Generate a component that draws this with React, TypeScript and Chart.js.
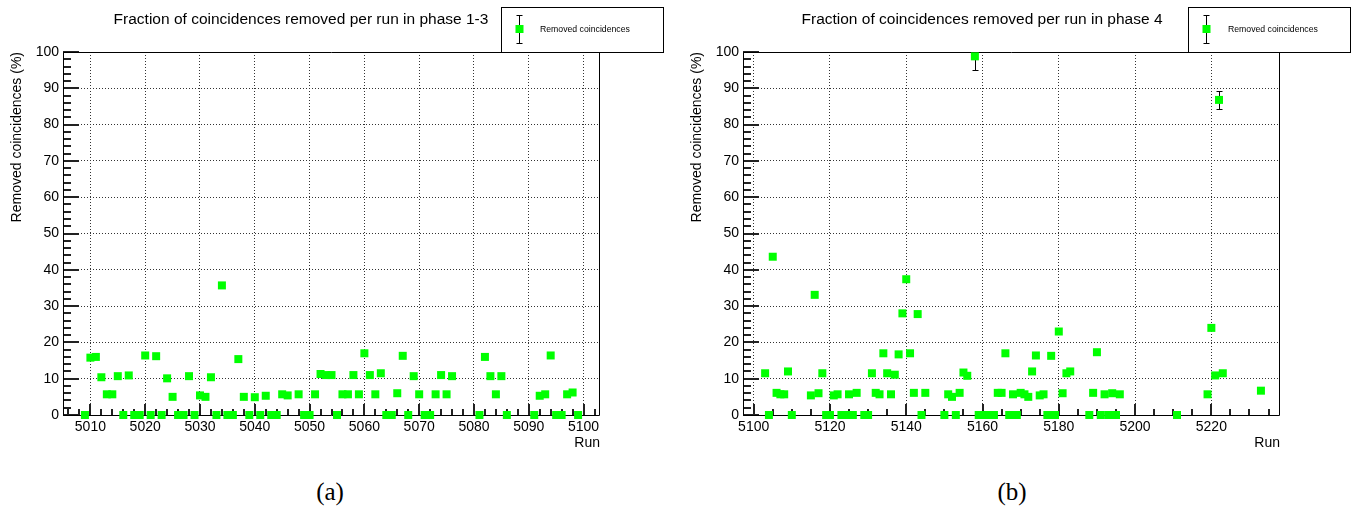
import React, { useEffect, useRef } from 'react';
import { Chart, registerables } from 'chart.js';

Chart.register(...registerables);

const FONT = "'Liberation Sans', Arial, Helvetica, sans-serif";

// ---------- data: phase 1-3 ----------
const leftRuns = [
  5009, 5010, 5011, 5012, 5013, 5014, 5015, 5016, 5017, 5018, 5019, 5020, 5021, 5022, 5023, 5024, 5025,
  5026, 5027, 5028, 5029, 5030, 5031, 5032, 5033, 5034, 5035, 5036, 5037, 5038, 5039, 5040, 5041, 5042,
  5043, 5044, 5045, 5046, 5048, 5049, 5050, 5051, 5052, 5053, 5054, 5055, 5056, 5057, 5058, 5059, 5060,
  5061, 5062, 5063, 5064, 5065, 5066, 5067, 5068, 5069, 5070, 5071, 5072, 5073, 5074, 5075, 5076, 5081,
  5082, 5083, 5084, 5085, 5086, 5091, 5092, 5093, 5094, 5095, 5096, 5097, 5098, 5099,
];
const leftValues = [
  0, 15.8, 16.0, 10.4, 5.7, 5.7, 10.7, 0, 10.9, 0, 0, 16.4, 0, 16.2, 0, 10.1, 5.0,
  0, 0, 10.7, 0, 5.4, 5.0, 10.4, 0, 35.7, 0, 0, 15.4, 5.0, 0, 4.9, 0, 5.3,
  0, 0, 5.7, 5.4, 5.7, 0, 0, 5.7, 11.3, 11.0, 11.0, 0, 5.7, 5.7, 11.0, 5.7, 17.0,
  11.0, 5.7, 11.5, 0, 0, 6.0, 16.3, 0, 10.7, 5.7, 0, 0, 5.7, 11.0, 5.7, 10.7, 0,
  16.0, 10.7, 5.7, 10.7, 0, 0, 5.3, 5.7, 16.4, 0, 0, 5.7, 6.2, 0,
];
const leftErrorRuns: number[] = [];
const leftErrorValues: number[] = [];

// ---------- data: phase 4 ----------
const rightRuns = [
  5103, 5104, 5105, 5106, 5107, 5108, 5109, 5110, 5115, 5116, 5117, 5118, 5119, 5120, 5121, 5122, 5123,
  5124, 5125, 5126, 5127, 5129, 5130, 5131, 5132, 5133, 5134, 5135, 5136, 5137, 5138, 5139, 5140, 5141,
  5142, 5143, 5144, 5145, 5150, 5151, 5152, 5153, 5154, 5155, 5156, 5158, 5159, 5160, 5161, 5162, 5163,
  5164, 5165, 5166, 5167, 5168, 5169, 5170, 5171, 5172, 5173, 5174, 5175, 5176, 5177, 5178, 5179, 5180,
  5181, 5182, 5183, 5188, 5189, 5190, 5191, 5192, 5193, 5194, 5195, 5196, 5211, 5219, 5220, 5221, 5222,
  5223, 5233,
];
const rightValues = [
  11.5, 0, 43.6, 6.1, 5.7, 5.7, 12.0, 0, 5.4, 33.1, 6.0, 11.5, 0, 0, 5.4, 5.7, 0,
  0, 5.7, 0, 6.1, 0, 0, 11.5, 6.1, 5.7, 17.0, 11.5, 5.7, 11.1, 16.7, 28.0, 37.4, 17.0,
  6.1, 27.8, 0, 6.1, 0, 5.7, 5.0, 0, 6.1, 11.7, 10.8, 98.8, 0, 0, 0, 0, 0,
  6.1, 6.1, 17.0, 0, 5.7, 0, 6.1, 5.7, 5.0, 12.0, 16.4, 5.4, 5.7, 0, 16.3, 0, 23.0,
  6.0, 11.5, 12.0, 0, 6.1, 17.3, 0, 5.7, 0, 6.0, 0, 5.7, 0, 5.7, 24.0, 10.9, 86.8,
  11.5, 6.7,
];
const rightErrorRuns = [5158, 5222];
const rightErrorValues = [3.7, 2.4];

// ---------- ticks ----------
const yTicks = [0, 10, 20, 30, 40, 50, 60, 70, 80, 90, 100];
const leftXTicks = [5010, 5020, 5030, 5040, 5050, 5060, 5070, 5080, 5090, 5100];
const rightXTicks = [5100, 5120, 5140, 5160, 5180, 5200, 5220];

const SERIES_LABEL = 'Removed coincidences';
const Y_TITLE = 'Removed coincidences (%)';
const X_TITLE = 'Run';

interface PanelSpec {
  title: string;
  runs: number[];
  values: number[];
  errRuns: number[];
  errValues: number[];
  xTicks: number[];
  xMin: number;
  xMax: number;
  xMinorStep: number;
  yMinorStep: number;
  width: number;
  padRight: number;
  titleX: number;
  legendLeft: number;
  legendRight: number;
  legendMarkerX: number;
  legendTextX: number;
}

function isMajor(list: number[], v: number) {
  for (let i = 0; i < list.length; i++) if (Math.abs(list[i] - v) < 1e-6) return true;
  return false;
}

function makeDecor(p: PanelSpec) {
  return {
    id: 'rootDecor',
    beforeDatasetsDraw(chart: any) {
      const { ctx, chartArea: a, scales } = chart;
      const xs = scales.x;
      const ys = scales.y;
      ctx.save();
      ctx.setLineDash([]);
      ctx.globalAlpha = 1;
      // inward axis tick marks, drawn as filled rectangles
      ctx.fillStyle = '#222';
      const left = Math.round(a.left);
      const bottom = Math.round(a.bottom);
      const nY = Math.round(100 / p.yMinorStep);
      for (let k = 0; k <= nY; k++) {
        const v = k * p.yMinorStep;
        const len = isMajor(yTicks, v) ? 16 : 8;
        const py = Math.round(ys.getPixelForValue(v));
        ctx.fillRect(left, py - 1, len, 2);
      }
      const start = Math.ceil(p.xMin / p.xMinorStep) * p.xMinorStep;
      const nX = Math.floor((p.xMax - start) / p.xMinorStep);
      for (let k = 0; k <= nX; k++) {
        const v = start + k * p.xMinorStep;
        const len = isMajor(p.xTicks, v) ? 11 : 6;
        const px = Math.round(xs.getPixelForValue(v));
        ctx.fillRect(px - 1, bottom - len, 2, len);
      }
      // frame
      ctx.lineWidth = 1;
      ctx.strokeStyle = '#000';
      ctx.beginPath();
      ctx.rect(a.left + 0.5, a.top + 0.5, a.right - a.left - 1, a.bottom - a.top);
      ctx.stroke();
      // error bars (under markers)
      ctx.beginPath();
      ctx.rect(a.left, a.top, a.right - a.left, a.bottom - a.top);
      ctx.clip();
      ctx.beginPath();
      for (let i = 0; i < p.errRuns.length; i++) {
        const r = p.errRuns[i];
        const idx = p.runs.indexOf(r);
        if (idx < 0) continue;
        const v = p.values[idx];
        const e = p.errValues[i];
        const px = Math.round(xs.getPixelForValue(r)) + 0.5;
        const y1 = Math.round(ys.getPixelForValue(v + e)) + 0.5;
        const y2 = Math.round(ys.getPixelForValue(v - e)) + 0.5;
        ctx.moveTo(px, y1);
        ctx.lineTo(px, y2);
        ctx.moveTo(px - 3, y1);
        ctx.lineTo(px + 3, y1);
        ctx.moveTo(px - 3, y2);
        ctx.lineTo(px + 3, y2);
      }
      ctx.stroke();
      ctx.restore();
    },
    afterDraw(chart: any) {
      const { ctx } = chart;
      ctx.save();
      ctx.setLineDash([]);
      ctx.fillStyle = '#000';
      ctx.font = `15.5px ${FONT}`;
      ctx.textAlign = 'center';
      ctx.textBaseline = 'middle';
      ctx.fillText(p.title, p.titleX, 20);
      ctx.strokeStyle = '#000';
      ctx.lineWidth = 1;
      ctx.strokeRect(p.legendLeft + 0.5, 7.5, p.legendRight - p.legendLeft, 45);
      const mx = p.legendMarkerX + 0.5;
      ctx.beginPath();
      ctx.moveTo(mx, 15.5);
      ctx.lineTo(mx, 43.5);
      ctx.moveTo(mx - 3, 15.5);
      ctx.lineTo(mx + 3, 15.5);
      ctx.moveTo(mx - 3, 43.5);
      ctx.lineTo(mx + 3, 43.5);
      ctx.stroke();
      ctx.fillStyle = '#00ff00';
      ctx.fillRect(p.legendMarkerX - 3.5, 25, 8, 8);
      ctx.fillStyle = '#000';
      ctx.font = `8.7px ${FONT}`;
      ctx.textAlign = 'left';
      ctx.fillText(SERIES_LABEL, p.legendTextX, 29.5);
      ctx.restore();
    },
  };
}

function buildConfig(p: PanelSpec): any {
  return {
    type: 'scatter',
    data: {
      datasets: [
        {
          label: SERIES_LABEL,
          data: p.runs.map((r, i) => ({ x: r, y: p.values[i] })),
          pointStyle: 'rect',
          pointRadius: 5.657,
          pointHoverRadius: 5.657,
          backgroundColor: '#00ff00',
          borderColor: '#00ff00',
          borderWidth: 0,
          showLine: false,
          clip: false,
        },
      ],
    },
    options: {
      animation: false,
      responsive: false,
      devicePixelRatio: 1,
      events: [],
      layout: { padding: { left: 0, top: 52, right: p.padRight, bottom: 8 } },
      plugins: {
        legend: { display: false },
        tooltip: { enabled: false },
        title: { display: false },
      },
      scales: {
        x: {
          type: 'linear',
          position: 'bottom',
          min: p.xMin,
          max: p.xMax,
          afterBuildTicks: (s: any) => {
            s.ticks = p.xTicks.map((v) => ({ value: v }));
          },
          afterFit: (s: any) => {
            s.height = 37;
          },
          grid: { color: '#333', drawTicks: false },
          border: { display: false, dash: [1, 2] },
          ticks: {
            color: '#000',
            font: { family: FONT, size: 14 },
            padding: 4,
            maxRotation: 0,
            autoSkip: false,
            callback: (v: any) => String(v),
          },
          title: {
            display: true,
            text: X_TITLE,
            align: 'end',
            color: '#000',
            font: { family: FONT, size: 14 },
            padding: { top: 0, bottom: 0 },
          },
        },
        y: {
          type: 'linear',
          position: 'left',
          min: 0,
          max: 100,
          afterBuildTicks: (s: any) => {
            s.ticks = yTicks.map((v) => ({ value: v }));
          },
          afterFit: (s: any) => {
            s.width = 63;
          },
          grid: { color: '#333', drawTicks: false },
          border: { display: false, dash: [1, 2] },
          ticks: {
            color: '#000',
            font: { family: FONT, size: 14 },
            padding: 4,
            autoSkip: false,
            callback: (v: any) => String(v),
          },
          title: {
            display: true,
            text: Y_TITLE,
            align: 'end',
            color: '#000',
            font: { family: FONT, size: 14 },
            padding: { top: 9, bottom: 0 },
          },
        },
      },
    },
    plugins: [makeDecor(p)],
  };
}

function Panel({ spec, left }: { spec: PanelSpec; left: number }) {
  const ref = useRef<HTMLCanvasElement | null>(null);
  useEffect(() => {
    if (!ref.current) return;
    const chart = new Chart(ref.current, buildConfig(spec));
    return () => chart.destroy();
  }, [spec]);
  return <canvas ref={ref} width={spec.width} height={460} style={{ position: 'absolute', left, top: 0 }} />;
}

const leftSpec: PanelSpec = {
  title: 'Fraction of coincidences removed per run in phase 1-3',
  runs: leftRuns,
  values: leftValues,
  errRuns: leftErrorRuns,
  errValues: leftErrorValues,
  xTicks: leftXTicks,
  xMin: 5005,
  xMax: 5103,
  xMinorStep: 2,
  yMinorStep: 2,
  width: 680,
  padRight: 80,
  titleX: 301,
  legendLeft: 501,
  legendRight: 663,
  legendMarkerX: 519,
  legendTextX: 540,
};

const rightSpec: PanelSpec = {
  title: 'Fraction of coincidences removed per run in phase 4',
  runs: rightRuns,
  values: rightValues,
  errRuns: rightErrorRuns,
  errValues: rightErrorValues,
  xTicks: rightXTicks,
  xMin: 5097.2,
  xMax: 5238,
  xMinorStep: 5,
  yMinorStep: 2,
  width: 671,
  padRight: 71,
  titleX: 302,
  legendLeft: 508,
  legendRight: 670,
  legendMarkerX: 526,
  legendTextX: 548,
};

export default function App() {
  const caption: React.CSSProperties = {
    position: 'absolute',
    top: 477,
    width: 100,
    textAlign: 'center',
    fontFamily: "'Liberation Serif', 'Times New Roman', serif",
    fontSize: 25,
    lineHeight: '30px',
    color: '#000',
  };
  return (
    <div style={{ position: 'absolute', left: 0, top: 0, width: 1351, height: 510, background: '#fff', overflow: 'hidden' }}>
      <Panel spec={leftSpec} left={0} />
      <Panel spec={rightSpec} left={680} />
      <div style={{ ...caption, left: 280 }}>(a)</div>
      <div style={{ ...caption, left: 962 }}>(b)</div>
    </div>
  );
}
